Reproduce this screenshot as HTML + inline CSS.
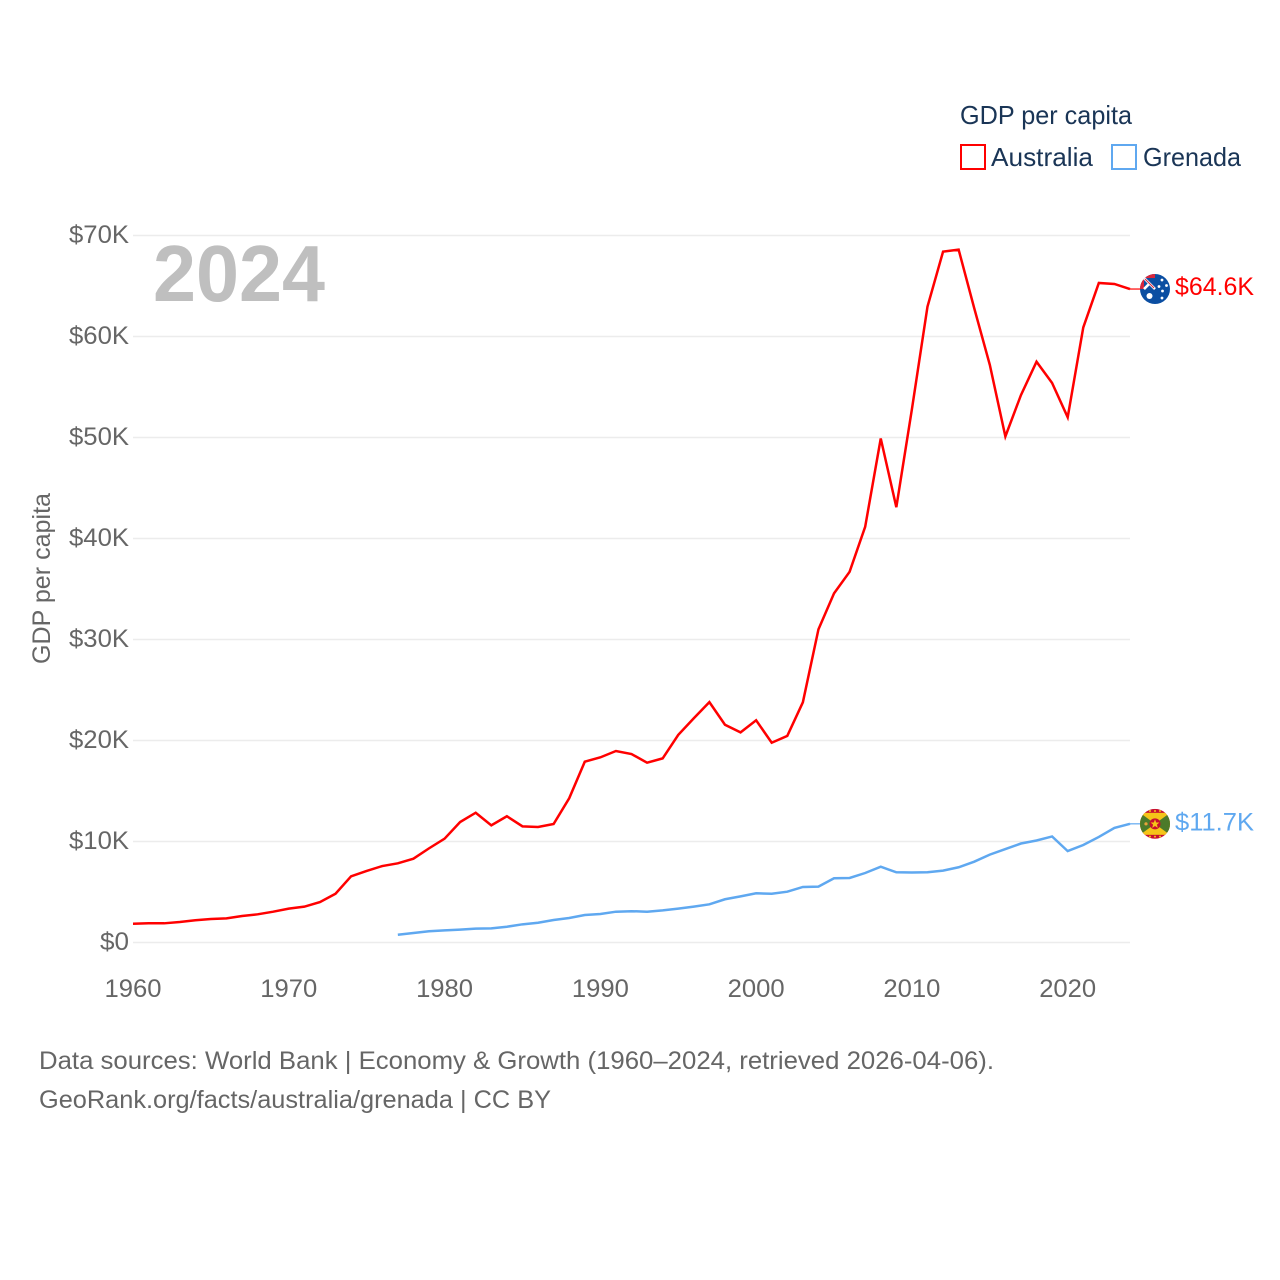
<!DOCTYPE html>
<html lang="en">
<head>
<meta charset="utf-8">
<title>GDP per capita: Australia and Grenada</title>
<style>
html,body{margin:0;padding:0;background:#fff;}
svg{display:block;font-family:"Liberation Sans",sans-serif;}
</style>
</head>
<body>
<svg id="chart" xmlns="http://www.w3.org/2000/svg" width="1280" height="1280" viewBox="0 0 1280 1280">
  <defs>
    <clipPath id="flag-clip"><circle cx="0" cy="0" r="15"/></clipPath>
  </defs>
  <rect width="1280" height="1280" fill="#ffffff"/>
  <g id="grid"></g>
  <g id="y-ticks"></g>
  <g id="x-ticks"></g>
  <text x="153" y="301" font-size="80" font-weight="bold" fill="#bfbfbf" textLength="172" lengthAdjust="spacingAndGlyphs">2024</text>
  <text transform="translate(50,664) rotate(-90)" font-size="25" fill="#666666" textLength="171" lengthAdjust="spacingAndGlyphs">GDP per capita</text>
  <g id="series"></g>

  <g id="flag-australia">
    <g clip-path="url(#flag-clip)">
      <rect x="-15" y="-15" width="30" height="30" fill="#0b4ea2"/>
      <rect x="-15" y="-15" width="15" height="15" fill="#d8263c"/>
      <rect x="-11" y="-11" width="11" height="11" fill="#0b4ea2"/>
      <path d="M-11-11 L0 0 M-11 0 L-5-6" stroke="#ffffff" stroke-width="2.6"/>
      <path d="M-10-10 L-1-1" stroke="#d8263c" stroke-width="1.1"/>
      <circle cx="-5.5" cy="7" r="3" fill="#ffffff"/>
      <circle cx="7" cy="-9" r="1.4" fill="#ffffff"/>
      <circle cx="11.5" cy="-3.5" r="1.4" fill="#ffffff"/>
      <circle cx="4" cy="-2.5" r="1.4" fill="#ffffff"/>
      <circle cx="7.5" cy="2" r="1.4" fill="#ffffff"/>
      <circle cx="7" cy="9" r="1.4" fill="#ffffff"/>
    </g>
  </g>

  <g id="flag-grenada">
    <g clip-path="url(#flag-clip)">
      <rect x="-15" y="-15" width="30" height="30" fill="#c8102e"/>
      <rect x="-15" y="-11" width="30" height="22" fill="#f5c518"/>
      <path d="M-15-11 L0 0 L-15 11 Z" fill="#4c7a2a"/>
      <path d="M15-11 L0 0 L15 11 Z" fill="#4c7a2a"/>
      <circle cx="0" cy="0" r="5.5" fill="#c8102e"/>
      <path d="M0-4.4 L1.2-1.3 L4.4-1.3 L1.9 .8 L2.8 4 L0 2.2 L-2.8 4 L-1.9 .8 L-4.4-1.3 L-1.2-1.3 Z" fill="#f5c518"/>
      <circle cx="-9" cy="0" r="1.6" fill="#e8a33a"/>
      <circle cx="0" cy="-12.8" r="1" fill="#f5c518"/>
      <circle cx="-5" cy="-12.8" r="1" fill="#f5c518"/>
      <circle cx="5" cy="-12.8" r="1" fill="#f5c518"/>
      <circle cx="0" cy="12.8" r="1" fill="#f5c518"/>
      <circle cx="-5" cy="12.8" r="1" fill="#f5c518"/>
      <circle cx="5" cy="12.8" r="1" fill="#f5c518"/>
    </g>
  </g>

  <text id="label-australia" x="1175" font-size="25" fill="#ff0000" textLength="79" lengthAdjust="spacingAndGlyphs">$64.6K</text>
  <text id="label-grenada" x="1175" font-size="25" fill="#5fa8f0" textLength="79" lengthAdjust="spacingAndGlyphs">$11.7K</text>

  <g>
    <text x="960" y="124" font-size="26" fill="#1a3556" textLength="172" lengthAdjust="spacingAndGlyphs">GDP per capita</text>
    <g>
      <rect x="961" y="145" width="24" height="24" fill="none" stroke="#ff0000" stroke-width="2"/>
      <text x="991" y="166" font-size="26" fill="#1a3556" textLength="102" lengthAdjust="spacingAndGlyphs">Australia</text>
    </g>
    <g>
      <rect x="1112" y="145" width="24" height="24" fill="none" stroke="#5fa8f0" stroke-width="2"/>
      <text x="1143" y="166" font-size="26" fill="#1a3556" textLength="98" lengthAdjust="spacingAndGlyphs">Grenada</text>
    </g>
  </g>

  <g>
    <text x="39" y="1069" font-size="25" fill="#666666" textLength="955" lengthAdjust="spacingAndGlyphs">Data sources: World Bank | Economy &amp; Growth (1960–2024, retrieved 2026-04-06).</text>
    <text x="39" y="1108" font-size="25" fill="#666666" textLength="512" lengthAdjust="spacingAndGlyphs">GeoRank.org/facts/australia/grenada | CC BY</text>
  </g>
</svg>
<script>
const startYear = 1960;
const endYear = 2024;
const yTickValues = [0, 10, 20, 30, 40, 50, 60, 70];
const yTickLabels = ["$0", "$10K", "$20K", "$30K", "$40K", "$50K", "$60K", "$70K"];
const xTickValues = [1960, 1970, 1980, 1990, 2000, 2010, 2020];
const xTickLabels = ["1960", "1970", "1980", "1990", "2000", "2010", "2020"];
const australiaStartYear = 1960;
const australiaValues = [1.86, 1.9, 1.9, 2.03, 2.2, 2.33, 2.39, 2.62, 2.79, 3.05,
  3.35, 3.55, 4.0, 4.83, 6.55, 7.08, 7.57, 7.84, 8.3, 9.32,
  10.28, 11.93, 12.85, 11.6, 12.5, 11.5, 11.44, 11.73, 14.28, 17.9,
  18.33, 18.96, 18.66, 17.8, 18.23, 20.55, 22.2, 23.8, 21.56, 20.8,
  22.0, 19.78, 20.45, 23.78, 31.0, 34.57, 36.7, 41.16, 49.9, 43.1,
  52.8, 62.95, 68.4, 68.6, 62.8, 57.2, 50.1, 54.2, 57.5, 55.4,
  52.0, 60.9, 65.3, 65.2, 64.7];
const grenadaStartYear = 1977;
const grenadaValues = [0.77, 0.94, 1.11,
  1.2, 1.27, 1.37, 1.4, 1.56, 1.8, 1.96, 2.23, 2.43, 2.72,
  2.82, 3.05, 3.1, 3.05, 3.18, 3.35, 3.55, 3.78, 4.28, 4.57,
  4.87, 4.83, 5.03, 5.5, 5.53, 6.36, 6.39, 6.88, 7.5, 6.95,
  6.93, 6.96, 7.12, 7.45, 8.0, 8.7, 9.25, 9.8, 10.1, 10.5,
  9.05, 9.65, 10.45, 11.35, 11.75];

const SVG_NS = "http://www.w3.org/2000/svg";
const plotLeft = 133, plotRight = 1130, plotBottom = 942.5, plotTop = 235.5;
function xScale(year) {
  return plotLeft + (year - startYear) / (endYear - startYear) * (plotRight - plotLeft);
}
function yScale(value) {
  return plotBottom - value / 70 * (plotBottom - plotTop);
}
function make(tag, attrs, parent, content) {
  const el = document.createElementNS(SVG_NS, tag);
  Object.keys(attrs).forEach(function (k) { el.setAttribute(k, attrs[k]); });
  if (content !== undefined) el.textContent = content;
  parent.appendChild(el);
  return el;
}

const gridGroup = document.getElementById("grid");
const yTickGroup = document.getElementById("y-ticks");
yTickValues.forEach(function (v, i) {
  const line = make("line", {x1: plotLeft, x2: plotRight, y1: yScale(v), y2: yScale(v), stroke: "#ececec", "stroke-width": 1.5}, gridGroup);
  
  
  const label = yTickLabels[i];
  const t = make("text", {x: 129, y: yScale(v) + 7.5, "text-anchor": "end", "font-size": 25, fill: "#666666", textLength: label.length === 2 ? 29 : 60, lengthAdjust: "spacingAndGlyphs"}, yTickGroup, label);
  
  
});

const xTickGroup = document.getElementById("x-ticks");
xTickValues.forEach(function (v, i) {
  const t = make("text", {x: xScale(v), y: 997, "text-anchor": "middle", "font-size": 25, fill: "#666666", textLength: 57, lengthAdjust: "spacingAndGlyphs"}, xTickGroup, xTickLabels[i]);
  
  
});

function linePoints(firstYear, values) {
  return values.map(function (v, i) {
    return xScale(firstYear + i).toFixed(2) + "," + yScale(v).toFixed(2);
  }).join(" ");
}
const seriesGroup = document.getElementById("series");
const australiaLine = make("polyline", {points: linePoints(australiaStartYear, australiaValues), fill: "none", stroke: "#ff0000", "stroke-width": 2.5, "stroke-linejoin": "miter"}, seriesGroup);


const grenadaLine = make("polyline", {points: linePoints(grenadaStartYear, grenadaValues), fill: "none", stroke: "#5fa8f0", "stroke-width": 2.5, "stroke-linejoin": "miter"}, seriesGroup);



const australiaEndY = yScale(australiaValues[australiaValues.length - 1]);
const grenadaEndY = yScale(grenadaValues[grenadaValues.length - 1]);
const australiaConnector = make("line", {x1: plotRight, x2: 1141, y1: australiaEndY, y2: australiaEndY, stroke: "#ff0000", "stroke-width": 1.2}, seriesGroup);


const grenadaConnector = make("line", {x1: plotRight, x2: 1141, y1: grenadaEndY, y2: grenadaEndY, stroke: "#5fa8f0", "stroke-width": 1.2}, seriesGroup);



document.getElementById("flag-australia").setAttribute("transform", "translate(1155," + australiaEndY + ")");
document.getElementById("flag-grenada").setAttribute("transform", "translate(1155," + grenadaEndY + ")");
document.getElementById("label-australia").setAttribute("y", australiaEndY + 6);
document.getElementById("label-grenada").setAttribute("y", grenadaEndY + 6.5);
</script>
</body>
</html>
